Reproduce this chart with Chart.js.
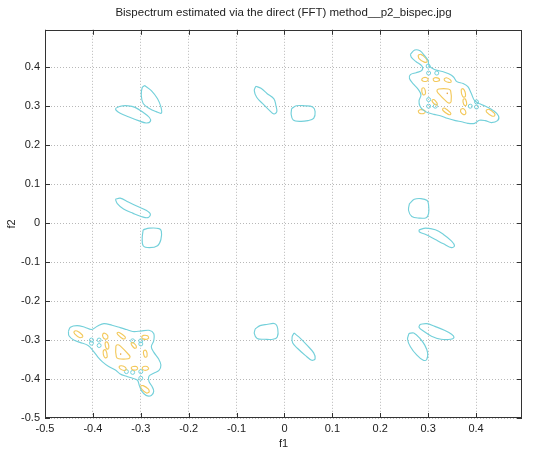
<!DOCTYPE html>
<html><head><meta charset="utf-8">
<script src="https://cdn.jsdelivr.net/npm/chart.js@4"></script>
<style>html,body{margin:0;padding:0;background:#fff}#wrap{width:536px;height:451px;position:relative}</style>
</head><body><div id="wrap"><canvas id="c"></canvas></div>
<script>
const chartTitle = 'Bispectrum estimated via the direct (FFT) method__p2_bispec.jpg';
const xLabel = 'f1';
const yLabel = 'f2';
const xTicks = [-0.5,-0.4,-0.3,-0.2,-0.1,0,0.1,0.2,0.3,0.4];
const yTicks = [-0.5,-0.4,-0.3,-0.2,-0.1,0,0.1,0.2,0.3,0.4];
const tickLabels = ['-0.5','-0.4','-0.3','-0.2','-0.1','0','0.1','0.2','0.3','0.4'];

// outer (low level, cyan) contours
const cyanA = [[-0.292,0.353],[-0.278,0.340],[-0.265,0.319],[-0.258,0.298],[-0.257,0.282],[-0.268,0.286],[-0.282,0.294],[-0.295,0.307],[-0.299,0.328],[-0.297,0.348]];
const cyanB = [[-0.353,0.294],[-0.343,0.300],[-0.326,0.301],[-0.312,0.297],[-0.295,0.284],[-0.282,0.271],[-0.280,0.261],[-0.289,0.257],[-0.305,0.263],[-0.326,0.273],[-0.343,0.282],[-0.351,0.289]];
const cyanC = [[-0.060,0.351],[-0.049,0.346],[-0.036,0.332],[-0.022,0.319],[-0.018,0.303],[-0.016,0.286],[-0.022,0.280],[-0.032,0.290],[-0.046,0.307],[-0.058,0.323],[-0.063,0.340]];
const cyanD = [[0.015,0.294],[0.025,0.301],[0.042,0.301],[0.059,0.298],[0.064,0.286],[0.061,0.269],[0.049,0.263],[0.032,0.261],[0.018,0.265],[0.014,0.279]];
const cyanK = [[-0.353,0.061],[-0.343,0.064],[-0.326,0.054],[-0.305,0.042],[-0.289,0.033],[-0.280,0.023],[-0.285,0.014],[-0.299,0.017],[-0.316,0.025],[-0.336,0.036],[-0.349,0.050]];
const cyanL = [[-0.295,-0.017],[-0.282,-0.013],[-0.262,-0.014],[-0.257,-0.021],[-0.258,-0.042],[-0.265,-0.058],[-0.282,-0.063],[-0.295,-0.058],[-0.297,-0.038]];
const cyanI = [[0.261,0.050],[0.271,0.061],[0.285,0.063],[0.298,0.058],[0.301,0.046],[0.301,0.025],[0.296,0.014],[0.281,0.013],[0.266,0.017],[0.259,0.033]];
const cyanJ = [[0.281,-0.017],[0.295,-0.013],[0.315,-0.017],[0.332,-0.029],[0.349,-0.046],[0.355,-0.058],[0.349,-0.063],[0.332,-0.053],[0.315,-0.042],[0.295,-0.029],[0.282,-0.023]];
const cyanE = [[-0.061,-0.271],[-0.051,-0.263],[-0.037,-0.260],[-0.020,-0.258],[-0.014,-0.271],[-0.015,-0.292],[-0.024,-0.298],[-0.041,-0.298],[-0.057,-0.296],[-0.063,-0.283]];
const cyanF = [[0.020,-0.282],[0.030,-0.292],[0.047,-0.313],[0.061,-0.333],[0.064,-0.348],[0.057,-0.352],[0.044,-0.340],[0.027,-0.321],[0.017,-0.307],[0.016,-0.292]];
const cyanG = [[0.260,-0.283],[0.270,-0.282],[0.283,-0.296],[0.293,-0.313],[0.299,-0.333],[0.297,-0.350],[0.290,-0.352],[0.276,-0.338],[0.263,-0.317],[0.257,-0.298]];
const cyanH = [[0.283,-0.260],[0.297,-0.258],[0.314,-0.265],[0.334,-0.275],[0.349,-0.285],[0.354,-0.293],[0.347,-0.298],[0.327,-0.298],[0.307,-0.290],[0.290,-0.277],[0.281,-0.267]];
const cyanTR = [[0.263,0.433],[0.272,0.444],[0.283,0.442],[0.293,0.429],[0.300,0.417],[0.302,0.404],[0.313,0.394],[0.330,0.389],[0.343,0.383],[0.353,0.375],[0.360,0.363],[0.373,0.358],[0.383,0.350],[0.390,0.333],[0.397,0.314],[0.408,0.306],[0.423,0.298],[0.437,0.288],[0.447,0.275],[0.445,0.263],[0.432,0.258],[0.419,0.263],[0.407,0.264],[0.397,0.256],[0.383,0.256],[0.370,0.260],[0.357,0.263],[0.340,0.269],[0.327,0.275],[0.312,0.279],[0.300,0.283],[0.290,0.290],[0.283,0.300],[0.281,0.314],[0.285,0.329],[0.280,0.342],[0.270,0.356],[0.261,0.371],[0.263,0.381],[0.275,0.386],[0.287,0.392],[0.287,0.403],[0.275,0.414],[0.265,0.425]];
const cyanBL = [[-0.451,-0.277],[-0.447,-0.267],[-0.433,-0.263],[-0.417,-0.267],[-0.403,-0.273],[-0.390,-0.264],[-0.377,-0.258],[-0.360,-0.262],[-0.343,-0.268],[-0.330,-0.273],[-0.317,-0.278],[-0.300,-0.277],[-0.283,-0.275],[-0.273,-0.283],[-0.273,-0.302],[-0.278,-0.317],[-0.273,-0.331],[-0.263,-0.348],[-0.258,-0.364],[-0.262,-0.378],[-0.273,-0.385],[-0.283,-0.393],[-0.283,-0.406],[-0.277,-0.418],[-0.273,-0.431],[-0.278,-0.442],[-0.289,-0.442],[-0.298,-0.431],[-0.303,-0.417],[-0.307,-0.403],[-0.317,-0.398],[-0.330,-0.393],[-0.343,-0.387],[-0.353,-0.377],[-0.367,-0.368],[-0.380,-0.356],[-0.390,-0.343],[-0.400,-0.327],[-0.410,-0.314],[-0.427,-0.306],[-0.440,-0.300],[-0.450,-0.289]];

// higher level (yellow) contours, upper-right group
const yelTR1 = [[0.279,0.431],[0.285,0.433],[0.295,0.423],[0.298,0.414],[0.292,0.413],[0.281,0.422]];
const yelTR2 = [[0.286,0.368],[0.290,0.373],[0.297,0.373],[0.300,0.368],[0.297,0.364],[0.290,0.364]];
const yelTR3 = [[0.310,0.369],[0.314,0.373],[0.321,0.372],[0.324,0.367],[0.320,0.364],[0.313,0.364]];
const yelTR4 = [[0.333,0.370],[0.338,0.373],[0.346,0.368],[0.348,0.362],[0.343,0.361],[0.335,0.365]];
const yelTR5 = [[0.287,0.346],[0.291,0.347],[0.294,0.340],[0.294,0.331],[0.290,0.329],[0.287,0.336]];
const yelTR6 = [[0.318,0.340],[0.322,0.344],[0.342,0.344],[0.347,0.339],[0.348,0.312],[0.344,0.308],[0.339,0.311],[0.320,0.335]];
const yelTR7 = [[0.369,0.343],[0.373,0.345],[0.377,0.337],[0.378,0.326],[0.374,0.323],[0.370,0.331]];
const yelTR8 = [[0.308,0.316],[0.312,0.317],[0.318,0.309],[0.319,0.304],[0.315,0.304],[0.309,0.311]];
const yelTR9 = [[0.373,0.318],[0.377,0.319],[0.380,0.311],[0.380,0.303],[0.376,0.302],[0.373,0.310]];
const yelTR10 = [[0.279,0.287],[0.283,0.291],[0.291,0.290],[0.294,0.285],[0.290,0.281],[0.282,0.282]];
const yelTR11 = [[0.330,0.294],[0.335,0.295],[0.346,0.284],[0.347,0.279],[0.342,0.279],[0.331,0.289]];
const yelTR12 = [[0.368,0.292],[0.373,0.294],[0.378,0.288],[0.378,0.280],[0.373,0.279],[0.368,0.285]];
const yelTR13 = [[0.421,0.290],[0.427,0.292],[0.438,0.282],[0.439,0.276],[0.433,0.275],[0.422,0.285]];
// lower-left group
const yelBL1 = [[-0.282,-0.433],[-0.288,-0.436],[-0.298,-0.426],[-0.300,-0.418],[-0.295,-0.417],[-0.284,-0.426]];
const yelBL2 = [[-0.283,-0.373],[-0.287,-0.377],[-0.294,-0.377],[-0.297,-0.373],[-0.294,-0.368],[-0.287,-0.368]];
const yelBL3 = [[-0.306,-0.373],[-0.310,-0.377],[-0.317,-0.376],[-0.320,-0.371],[-0.316,-0.368],[-0.309,-0.368]];
const yelBL4 = [[-0.330,-0.376],[-0.335,-0.378],[-0.343,-0.374],[-0.345,-0.368],[-0.340,-0.366],[-0.332,-0.370]];
const yelBL5 = [[-0.287,-0.343],[-0.291,-0.344],[-0.294,-0.337],[-0.294,-0.328],[-0.290,-0.326],[-0.287,-0.333]];
const yelBL6 = [[-0.322,-0.344],[-0.326,-0.348],[-0.346,-0.348],[-0.351,-0.343],[-0.352,-0.316],[-0.348,-0.312],[-0.343,-0.315],[-0.324,-0.339]];
const yelBL7 = [[-0.370,-0.344],[-0.374,-0.346],[-0.378,-0.338],[-0.378,-0.327],[-0.374,-0.325],[-0.371,-0.333]];
const yelBL8 = [[-0.309,-0.320],[-0.313,-0.321],[-0.319,-0.313],[-0.320,-0.308],[-0.316,-0.307],[-0.310,-0.314]];
const yelBL9 = [[-0.367,-0.322],[-0.371,-0.323],[-0.374,-0.315],[-0.374,-0.306],[-0.370,-0.305],[-0.367,-0.313]];
const yelBL10 = [[-0.283,-0.294],[-0.287,-0.298],[-0.295,-0.297],[-0.298,-0.292],[-0.294,-0.288],[-0.286,-0.289]];
const yelBL11 = [[-0.332,-0.296],[-0.337,-0.297],[-0.348,-0.286],[-0.349,-0.281],[-0.344,-0.281],[-0.333,-0.291]];
const yelBL12 = [[-0.369,-0.296],[-0.374,-0.298],[-0.379,-0.292],[-0.379,-0.284],[-0.374,-0.283],[-0.369,-0.289]];
const yelBL13 = [[-0.421,-0.292],[-0.427,-0.294],[-0.438,-0.284],[-0.439,-0.278],[-0.433,-0.277],[-0.422,-0.287]];

// tiny closed contours (cyan rings) and peaks
const ringX = [0.300,0.301,0.318,0.301,0.301,0.315,0.401,0.401,0.388,-0.403,-0.403,-0.387,-0.387,-0.317,-0.300,-0.300,-0.317,-0.300,-0.300,-0.330];
const ringY = [0.403,0.385,0.385,0.317,0.300,0.300,0.311,0.298,0.300,-0.300,-0.308,-0.300,-0.314,-0.302,-0.302,-0.310,-0.383,-0.381,-0.398,-0.381];
const peakX = [0.340,-0.342];
const peakY = [0.333,-0.336];

const CYAN = '#74d0da';
const YELLOW = '#f3c95c';

function loop(pts){ const d = pts.map(p => ({x:p[0], y:p[1]})); d.push({x:pts[0][0], y:pts[0][1]}); return d; }
function lineSet(pts, color){ return {data: loop(pts), showLine:true, borderColor:color, borderWidth:1.15, pointRadius:0, fill:false, tension:0.35}; }

const datasets = [];
[cyanA,cyanB,cyanC,cyanD,cyanK,cyanL,cyanI,cyanJ,cyanE,cyanF,cyanG,cyanH,cyanTR,cyanBL].forEach(p => datasets.push(lineSet(p, CYAN)));
[yelTR1,yelTR2,yelTR3,yelTR4,yelTR5,yelTR6,yelTR7,yelTR8,yelTR9,yelTR10,yelTR11,yelTR12,yelTR13,
 yelBL1,yelBL2,yelBL3,yelBL4,yelBL5,yelBL6,yelBL7,yelBL8,yelBL9,yelBL10,yelBL11,yelBL12,yelBL13].forEach(p => datasets.push(lineSet(p, YELLOW)));
datasets.push({data: ringX.map((v,i)=>({x:v, y:ringY[i]})), showLine:false, pointRadius:2, pointStyle:'circle', borderColor:CYAN, backgroundColor:'rgba(0,0,0,0)', borderWidth:1});
datasets.push({data: peakX.map((v,i)=>({x:v, y:peakY[i]})), showLine:false, pointRadius:0.8, borderColor:'#e8a040', backgroundColor:'#e8a040', borderWidth:0});

const FONT = {family:'"Liberation Sans", Arial, Helvetica, sans-serif', size:11};

const framePlugin = {
  id:'frame',
  afterDraw(chart){
    const {ctx, chartArea:a, scales:{x, y}} = chart;
    ctx.save();
    ctx.strokeStyle = '#333'; ctx.lineWidth = 1;
    ctx.strokeRect(Math.round(a.left)+0.5, Math.round(a.top)+0.5, Math.round(a.right-a.left)-1, Math.round(a.bottom-a.top)-1);
    ctx.beginPath();
    xTicks.forEach(v => { const p = Math.round(x.getPixelForValue(v))+0.5; ctx.moveTo(p, a.bottom); ctx.lineTo(p, a.bottom-5); ctx.moveTo(p, a.top); ctx.lineTo(p, a.top+5); });
    yTicks.forEach(v => { const p = Math.round(y.getPixelForValue(v))+0.5; ctx.moveTo(a.left, p); ctx.lineTo(a.left+5, p); ctx.moveTo(a.right, p); ctx.lineTo(a.right-5, p); });
    ctx.stroke();
    ctx.restore();
  }
};

new Chart(document.getElementById('c'), {
  type:'scatter',
  data:{datasets},
  options:{
    responsive:true, maintainAspectRatio:false, animation:false,
    layout:{padding:{left:0, right:14, top:0, bottom:0}},
    plugins:{
      legend:{display:false}, tooltip:{enabled:false},
      title:{display:true, text:chartTitle, fullSize:false, color:'#222', font:{...FONT, size:11.5, weight:'normal'}, padding:{top:6, bottom:10}}
    },
    scales:{
      x:{type:'linear', min:-0.5, max:0.496,
         afterBuildTicks: s => { s.ticks = xTicks.map(v => ({value:v})); },
         afterFit: s => { s.height = 33; },
         ticks:{callback:(v, i) => tickLabels[i], color:'#222', font:FONT, padding:4, maxRotation:0, autoSkip:false},
         grid:{color:'#b8b8b8', lineWidth:1, drawTicks:false},
         border:{display:false, dash:[1,2]},
         title:{display:true, text:xLabel, color:'#222', font:FONT, padding:{top:0, bottom:0}}
      },
      y:{type:'linear', min:-0.5, max:0.496,
         afterBuildTicks: s => { s.ticks = yTicks.map(v => ({value:v})); },
         afterFit: s => { s.width = 45; },
         ticks:{callback:(v, i) => tickLabels[i], color:'#222', font:FONT, padding:5, autoSkip:false},
         grid:{color:'#b8b8b8', lineWidth:1, drawTicks:false},
         border:{display:false, dash:[1,2]},
         title:{display:true, text:yLabel, color:'#222', font:FONT, padding:{top:5, bottom:0}}
      }
    }
  },
  plugins:[framePlugin]
});
</script>
</body></html>
